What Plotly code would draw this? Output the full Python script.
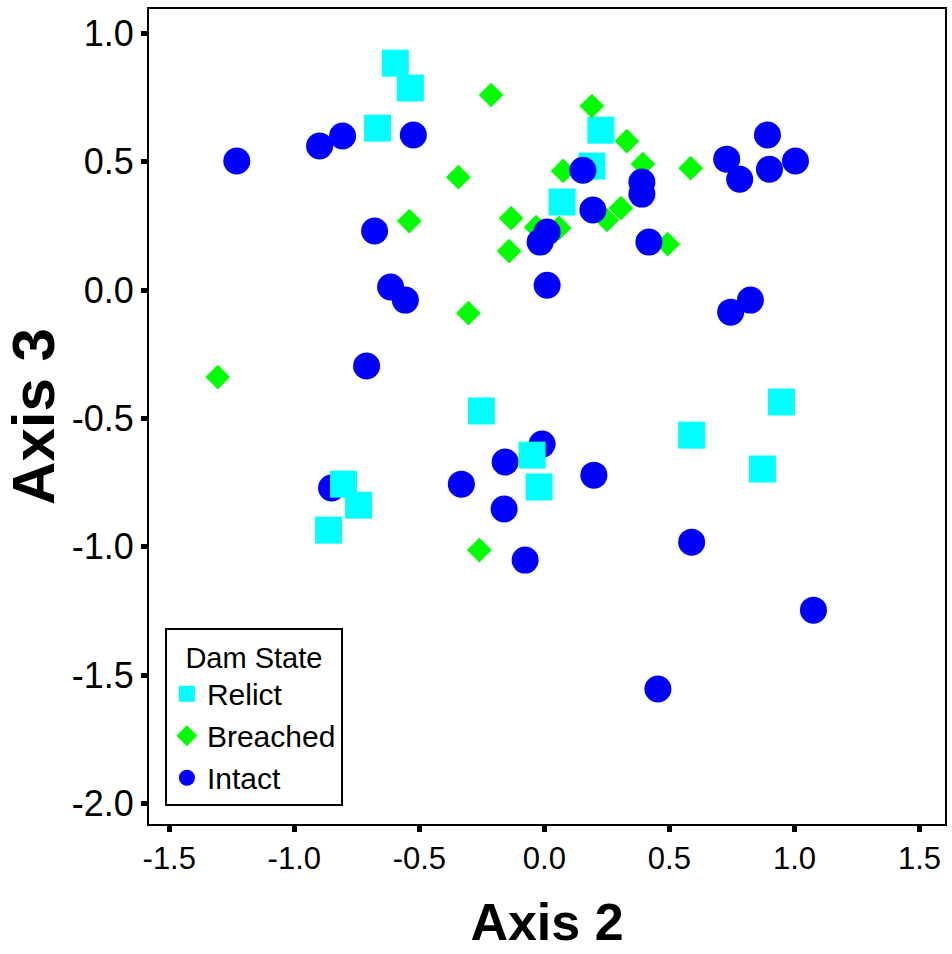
import plotly.graph_objects as go

# ---- data ----
relict_x = [-0.596, -0.536, -0.667, 0.226, 0.190, 0.071, -0.252, -0.049, -0.021,
            -0.803, -0.743, -0.863, 0.589, 0.948, 0.872]
relict_y = [0.884, 0.787, 0.631, 0.623, 0.483, 0.343, -0.471, -0.643, -0.767,
            -0.756, -0.838, -0.935, -0.565, -0.436, -0.697]

breached_x = [-0.213, 0.190, 0.330, 0.394, 0.585, -0.344, 0.075, -0.540, -0.133,
              -0.141, -0.304, -0.033, 0.059, 0.250, 0.306, 0.493, -1.306, -0.260]
breached_y = [0.760, 0.717, 0.580, 0.491, 0.475, 0.440, 0.464, 0.269, 0.280,
              0.152, -0.090, 0.245, 0.242, 0.273, 0.319, 0.179, -0.339, -1.013]

intact_x = [-1.230, -0.899, -0.807, -0.524, -0.679, -0.615, -0.556, 0.154, 0.390,
            0.390, 0.194, 0.011, -0.017, 0.418, 0.011, 0.729, 0.781, 0.892, 0.900,
            1.004, 0.824, 0.745, -0.711, -0.851, -0.332, -0.157, -0.161, -0.077,
            -0.009, 0.198, 0.589, 1.076, 0.454]
intact_y = [0.503, 0.561, 0.600, 0.604, 0.230, 0.012, -0.039, 0.467, 0.421,
            0.374, 0.312, 0.226, 0.187, 0.187, 0.019, 0.510, 0.432, 0.604, 0.471,
            0.503, -0.039, -0.086, -0.296, -0.771, -0.756, -0.670, -0.853, -1.052,
            -0.600, -0.721, -0.982, -1.247, -1.554]

x_ticks = [-1.5, -1.0, -0.5, 0.0, 0.5, 1.0, 1.5]
x_ticklabels = ["-1.5", "-1.0", "-0.5", "0.0", "0.5", "1.0", "1.5"]
y_ticks = [1.0, 0.5, 0.0, -0.5, -1.0, -1.5, -2.0]
y_ticklabels = ["1.0", "0.5", "0.0", "-0.5", "-1.0", "-1.5", "-2.0"]

CYAN = "#00FFFF"
GREEN = "#00FF00"
BLUE = "#0000FF"
FONT = "Liberation Sans, Arial, sans-serif"

# Relict points split so that upper ones sit below circles and lower ones above
rel_top = [(x, y) for x, y in zip(relict_x, relict_y) if y > 0]
rel_bot = [(x, y) for x, y in zip(relict_x, relict_y) if y <= 0]

fig = go.Figure()
fig.add_trace(go.Scatter(
    x=[p[0] for p in rel_top], y=[p[1] for p in rel_top], mode="markers",
    name="Relict", legendgroup="relict",
    marker=dict(symbol="square", size=27, color=CYAN, line=dict(width=0))))
fig.add_trace(go.Scatter(
    x=breached_x, y=breached_y, mode="markers", name="Breached",
    marker=dict(symbol="diamond", size=19, color=GREEN, line=dict(width=0))))
fig.add_trace(go.Scatter(
    x=intact_x, y=intact_y, mode="markers", name="Intact",
    marker=dict(symbol="circle", size=27, color=BLUE, line=dict(width=0))))
fig.add_trace(go.Scatter(
    x=[p[0] for p in rel_bot], y=[p[1] for p in rel_bot], mode="markers",
    name="Relict", legendgroup="relict", showlegend=False,
    marker=dict(symbol="square", size=27, color=CYAN, line=dict(width=0))))

axis_common = dict(
    showgrid=False, zeroline=False, showline=True, linecolor="black",
    linewidth=2, mirror=True, ticks="outside", ticklen=6, tickwidth=5,
    tickcolor="black",
)

fig.update_layout(
    width=952, height=954,
    margin=dict(l=149, r=5, t=9, b=130),
    paper_bgcolor="white", plot_bgcolor="white",
    font=dict(family=FONT, color="black"),
    xaxis=dict(range=[-1.581, 1.602], tickvals=x_ticks, ticktext=x_ticklabels,
               tickfont=dict(family=FONT, size=31, color="black"),
               title=dict(text="<b>Axis 2</b>", font=dict(family=FONT, size=52),
                          standoff=28),
               **axis_common),
    yaxis=dict(range=[-2.080, 1.095], tickvals=y_ticks, ticktext=y_ticklabels,
               tickfont=dict(family=FONT, size=36, color="black"),
               title=dict(text="<b>Axis 3</b>", font=dict(family=FONT, size=60),
                          standoff=8),
               **axis_common),
    legend=dict(
        x=0.02, y=0.022, xanchor="left", yanchor="bottom",
        bgcolor="white", bordercolor="black", borderwidth=2,
        font=dict(family=FONT, size=30, color="black"),
        title=dict(text="Dam State", side="top center",
                   font=dict(family=FONT, size=29)),
        itemsizing="trace", tracegroupgap=0,
    ),
)

fig.write_html("out.html", config={"displayModeBar": False},
               post_script="document.body.style.margin='0';")
